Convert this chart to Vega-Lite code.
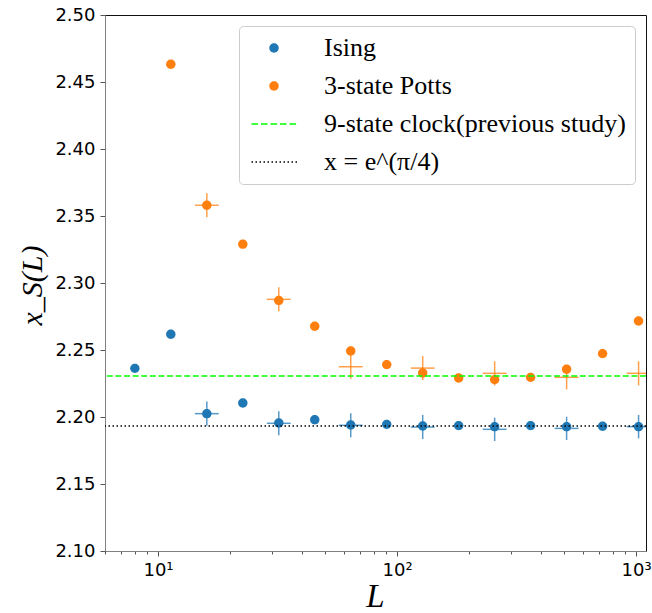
{
  "$schema": "https://vega.github.io/schema/vega-lite/v6.json",
  "width": 541,
  "height": 536,
  "autosize": {"type": "none"},
  "padding": {"left": 105, "top": 15, "right": 6, "bottom": 62},
  "background": "white",
  "config": {
    "view": {"stroke": "#111111", "strokeWidth": 1},
    "axis": {
      "grid": false,
      "domainColor": "#808080",
      "tickColor": "#555555",
      "labelFont": "DejaVu Sans",
      "labelFontSize": 18,
      "labelColor": "black",
      "titleFont": "Liberation Serif",
      "titleFontStyle": "italic",
      "titleFontWeight": "normal",
      "titleColor": "black"
    },
    "legend": {
      "orient": "top-right",
      "offset": 11,
      "labelFont": "Liberation Serif",
      "labelFontSize": 26,
      "labelColor": "black",
      "labelLimit": 500,
      "symbolSize": 400,
      "symbolStrokeWidth": 1.5,
      "symbolOffset": 13,
      "labelOffset": 37,
      "padding": 9,
      "rowPadding": 12,
      "fillColor": "rgba(255,255,255,0.8)",
      "strokeColor": "#cccccc",
      "cornerRadius": 4
    }
  },
  "datasets": {
    "pts": [
      {"series": "Ising", "L": 8, "xs": 2.2363},
      {"series": "Ising", "L": 11.31, "xs": 2.2617},
      {"series": "Ising", "L": 16, "xs": 2.2025},
      {"series": "Ising", "L": 22.63, "xs": 2.2104},
      {"series": "Ising", "L": 32, "xs": 2.1955},
      {"series": "Ising", "L": 45.25, "xs": 2.198},
      {"series": "Ising", "L": 64, "xs": 2.194},
      {"series": "Ising", "L": 90.51, "xs": 2.1945},
      {"series": "Ising", "L": 128, "xs": 2.1933},
      {"series": "Ising", "L": 181.0, "xs": 2.1936},
      {"series": "Ising", "L": 256, "xs": 2.1928},
      {"series": "Ising", "L": 362.0, "xs": 2.1936},
      {"series": "Ising", "L": 512, "xs": 2.1928},
      {"series": "Ising", "L": 724.1, "xs": 2.1931},
      {"series": "Ising", "L": 1024, "xs": 2.1928},
      {"series": "3-state Potts", "L": 11.31, "xs": 2.4632},
      {"series": "3-state Potts", "L": 16, "xs": 2.358},
      {"series": "3-state Potts", "L": 22.63, "xs": 2.329},
      {"series": "3-state Potts", "L": 32, "xs": 2.287},
      {"series": "3-state Potts", "L": 45.25, "xs": 2.2677},
      {"series": "3-state Potts", "L": 64, "xs": 2.2493},
      {"series": "3-state Potts", "L": 90.51, "xs": 2.2391},
      {"series": "3-state Potts", "L": 128, "xs": 2.2328},
      {"series": "3-state Potts", "L": 181.0, "xs": 2.2291},
      {"series": "3-state Potts", "L": 256, "xs": 2.2279},
      {"series": "3-state Potts", "L": 362.0, "xs": 2.2296},
      {"series": "3-state Potts", "L": 512, "xs": 2.2356},
      {"series": "3-state Potts", "L": 724.1, "xs": 2.2473},
      {"series": "3-state Potts", "L": 1024, "xs": 2.2716}
    ],
    "bars": [
      {"series": "Ising", "L": 16, "xlo": 14.26, "xhi": 17.95, "yc": 2.2025, "ylo": 2.1935, "yhi": 2.2115},
      {"series": "Ising", "L": 32, "xlo": 28.52, "xhi": 35.9, "yc": 2.1953, "ylo": 2.1863, "yhi": 2.2043},
      {"series": "Ising", "L": 64, "xlo": 57.04, "xhi": 71.81, "yc": 2.1938, "ylo": 2.1848, "yhi": 2.2028},
      {"series": "Ising", "L": 128, "xlo": 114.1, "xhi": 143.6, "yc": 2.1925, "ylo": 2.1835, "yhi": 2.2015},
      {"series": "Ising", "L": 256, "xlo": 228.2, "xhi": 287.2, "yc": 2.1908, "ylo": 2.1821, "yhi": 2.1995},
      {"series": "Ising", "L": 512, "xlo": 456.3, "xhi": 574.5, "yc": 2.1915, "ylo": 2.1828, "yhi": 2.2002},
      {"series": "Ising", "L": 1024, "xlo": 912.6, "xhi": 1149, "yc": 2.1928, "ylo": 2.1841, "yhi": 2.2015},
      {"series": "Potts", "L": 16, "xlo": 14.26, "xhi": 17.95, "yc": 2.358, "ylo": 2.349, "yhi": 2.367},
      {"series": "Potts", "L": 32, "xlo": 28.52, "xhi": 35.9, "yc": 2.2878, "ylo": 2.2788, "yhi": 2.2968},
      {"series": "Potts", "L": 64, "xlo": 57.04, "xhi": 71.81, "yc": 2.2375, "ylo": 2.2285, "yhi": 2.2465},
      {"series": "Potts", "L": 128, "xlo": 114.1, "xhi": 143.6, "yc": 2.2365, "ylo": 2.2275, "yhi": 2.2455},
      {"series": "Potts", "L": 256, "xlo": 228.2, "xhi": 287.2, "yc": 2.2326, "ylo": 2.2236, "yhi": 2.2416},
      {"series": "Potts", "L": 512, "xlo": 456.3, "xhi": 574.5, "yc": 2.2296, "ylo": 2.2206, "yhi": 2.2386},
      {"series": "Potts", "L": 1024, "xlo": 912.6, "xhi": 1149, "yc": 2.2326, "ylo": 2.2236, "yhi": 2.2416}
    ]
  },
  "layer": [
    {
      "data": {"name": "pts"},
      "mark": {"type": "point", "filled": true, "size": 400, "opacity": 1, "clip": true},
      "encoding": {
        "x": {
          "field": "L",
          "type": "quantitative",
          "title": "L",
          "scale": {"type": "log", "domain": [6, 1100], "nice": false},
          "axis": {
            "values": [6, 7, 8, 9, 10, 20, 30, 40, 50, 60, 70, 80, 90, 100, 200, 300, 400, 500, 600, 700, 800, 900, 1000],
            "labelExpr": "datum.value == 10 ? '10¹' : datum.value == 100 ? '10²' : datum.value == 1000 ? '10³' : ''",
            "tickSize": {"condition": {"test": "datum.value == 10 || datum.value == 100 || datum.value == 1000", "value": 5}, "value": 3},
            "labelPadding": 5,
            "labelFlush": false,
            "labelOverlap": false,
            "titleFontSize": 33,
            "titleX": 270,
            "titleY": 55,
            "titleAlign": "center",
            "titleBaseline": "alphabetic"
          }
        },
        "y": {
          "field": "xs",
          "type": "quantitative",
          "title": "x_S(L)",
          "scale": {"domain": [2.1, 2.5], "nice": false, "zero": false},
          "axis": {
            "values": [2.1, 2.15, 2.2, 2.25, 2.3, 2.35, 2.4, 2.45, 2.5],
            "format": ".2f",
            "tickSize": 5,
            "labelPadding": 5,
            "titleFontSize": 30,
            "titleAngle": -90,
            "titleX": -73,
            "titleY": 270,
            "titleAlign": "center",
            "titleBaseline": "middle"
          }
        },
        "color": {
          "field": "series",
          "type": "nominal",
          "scale": {
            "domain": ["Ising", "3-state Potts", "9-state clock(previous study)", "x = e^(π/4)"],
            "range": ["#1f77b4", "#ff7f0e", "#00ff00", "#000000"]
          },
          "legend": {"title": null}
        },
        "stroke": {
          "field": "series",
          "type": "nominal",
          "scale": {
            "domain": ["Ising", "3-state Potts", "9-state clock(previous study)", "x = e^(π/4)"],
            "range": ["transparent", "transparent", "#00ff00", "#000000"]
          },
          "legend": {"title": null}
        },
        "shape": {
          "field": "series",
          "type": "nominal",
          "scale": {
            "domain": ["Ising", "3-state Potts", "9-state clock(previous study)", "x = e^(π/4)"],
            "range": [
              "M-0.47,0A0.47,0.47,0,1,1,0.47,0A0.47,0.47,0,1,1,-0.47,0Z",
              "M-0.47,0A0.47,0.47,0,1,1,0.47,0A0.47,0.47,0,1,1,-0.47,0Z",
              "M-2.25,0H-1.59M-1.3,0H-0.64M-0.35,0H0.31M0.6,0H1.26M1.55,0H2.21",
              "M-2.25,0h0.15M-1.85,0h0.15M-1.45,0h0.15M-1.05,0h0.15M-0.65,0h0.15M-0.25,0h0.15M0.15,0h0.15M0.55,0h0.15M0.95,0h0.15M1.35,0h0.15M1.75,0h0.15M2.15,0h0.15"
            ]
          },
          "legend": {"title": null}
        }
      }
    },
    {
      "data": {"name": "bars"},
      "mark": {"type": "rule", "strokeWidth": 1.5, "opacity": 0.75, "clip": true},
      "encoding": {
        "x": {"field": "xlo", "type": "quantitative", "title": "L"},
        "x2": {"field": "xhi"},
        "y": {"field": "yc", "type": "quantitative", "title": "x_S(L)"},
        "color": {"condition": {"test": "datum.series == 'Ising'", "value": "#1f77b4"}, "value": "#ff7f0e"}
      }
    },
    {
      "data": {"name": "bars"},
      "mark": {"type": "rule", "strokeWidth": 1.5, "opacity": 0.75, "clip": true},
      "encoding": {
        "x": {"field": "L", "type": "quantitative", "title": "L"},
        "y": {"field": "ylo", "type": "quantitative", "title": "x_S(L)"},
        "y2": {"field": "yhi"},
        "color": {"condition": {"test": "datum.series == 'Ising'", "value": "#1f77b4"}, "value": "#ff7f0e"}
      }
    },
    {
      "data": {"values": [{"v": 2.2306}]},
      "mark": {"type": "rule", "color": "#00ff00", "strokeWidth": 1.5, "strokeDash": [6, 2.6]},
      "encoding": {"y": {"field": "v", "type": "quantitative", "title": "x_S(L)"}}
    },
    {
      "data": {"values": [{"v": 2.19328}]},
      "mark": {"type": "rule", "color": "#000000", "strokeWidth": 1.5, "strokeDash": [1.5, 2.5]},
      "encoding": {"y": {"field": "v", "type": "quantitative", "title": "x_S(L)"}}
    }
  ]
}
